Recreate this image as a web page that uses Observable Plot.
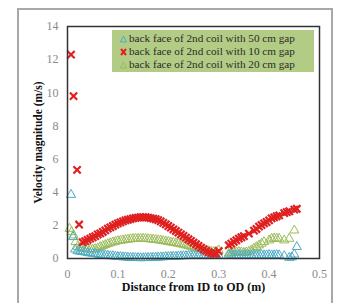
<!DOCTYPE html>
<html><head><meta charset="utf-8">
<script src="https://cdn.jsdelivr.net/npm/d3@7"></script>
<script src="https://cdn.jsdelivr.net/npm/@observablehq/plot@0.6"></script>
<style>
body{margin:0;background:#fff;}
#wrap{position:relative;width:342px;height:303px;overflow:hidden;font-family:"Liberation Serif",serif;}
#frame{position:absolute;left:17px;top:8px;width:316px;height:320px;border:2px solid #a8a8a8;box-sizing:border-box;}
#legend{position:absolute;left:112px;top:30px;width:202px;height:42px;background:#b3cc85;font-size:11.2px;line-height:13px;color:#2a2a2a;padding-top:2px;box-sizing:border-box;}
#legend div{white-space:nowrap;display:flex;align-items:center;}
#legend svg{margin-left:8px;margin-right:2px;}
#chart{position:absolute;left:0;top:0;}
</style></head>
<body><div id="wrap"><div id="frame"></div><div id="chart"></div><div id="legend"></div></div>
<script>
const seriesNames = ["back face of 2nd coil with 50 cm gap","back face of 2nd coil with 10 cm gap","back face of 2nd coil with 20 cm gap"];
const seriesColors = ["#4bacc6","#e02020","#9bbb59"];
const xTicks = [0,0.1,0.2,0.3,0.4,0.5];
const yTicks = [0,2,4,6,8,10,12,14];

// 50 cm gap (blue triangles)
const blueX = [0.007,0.011,0.015,0.02,0.025,0.03,0.035,0.04,0.045,0.05,0.055,0.06,0.065,0.07,0.075,0.08,0.085,0.09,0.095,0.1,0.105,0.11,0.115,0.12,0.125,0.13,0.135,0.14,0.145,0.15,0.155,0.16,0.165,0.17,0.175,0.18,0.185,0.19,0.195,0.2,0.205,0.21,0.215,0.22,0.225,0.23,0.235,0.24,0.245,0.25,0.255,0.26,0.265,0.27,0.275,0.28,0.285,0.29,0.295,0.3,0.32,0.325,0.33,0.335,0.34,0.345,0.35,0.355,0.36,0.365,0.37,0.375,0.38,0.385,0.39,0.395,0.4,0.405,0.41,0.415,0.42,0.43,0.44,0.445,0.45,0.455];
const blueY = [3.85,1.3,0.55,0.45,0.42,0.4,0.38,0.35,0.32,0.3,0.28,0.25,0.22,0.2,0.2,0.18,0.15,0.15,0.12,0.1,0.1,0.08,0.08,0.06,0.05,0.05,0.04,0.04,0.03,0.03,0.04,0.04,0.05,0.05,0.06,0.07,0.08,0.08,0.1,0.1,0.11,0.12,0.12,0.13,0.14,0.15,0.16,0.17,0.18,0.18,0.19,0.2,0.2,0.2,0.2,0.2,0.2,0.2,0.2,0.2,0.2,0.22,0.2,0.2,0.22,0.2,0.2,0.22,0.2,0.2,0.22,0.2,0.2,0.22,0.2,0.2,0.22,0.2,0.2,0.22,0.2,0.15,0.05,0.08,0.25,0.7];

// 10 cm gap (red crosses)
const redX = [0.007,0.012,0.019,0.023,0.03,0.035,0.04,0.045,0.05,0.055,0.06,0.065,0.07,0.075,0.08,0.085,0.09,0.095,0.1,0.105,0.11,0.115,0.12,0.125,0.13,0.135,0.14,0.145,0.15,0.155,0.16,0.165,0.17,0.175,0.18,0.185,0.19,0.195,0.2,0.205,0.21,0.215,0.22,0.225,0.23,0.235,0.24,0.245,0.25,0.255,0.26,0.265,0.27,0.275,0.28,0.285,0.29,0.295,0.3,0.32,0.325,0.33,0.335,0.34,0.345,0.35,0.36,0.37,0.375,0.38,0.385,0.39,0.395,0.4,0.405,0.41,0.415,0.42,0.43,0.435,0.44,0.45,0.455];
const redY = [12.3,9.8,5.35,2.05,0.98,1.05,1.12,1.2,1.28,1.35,1.45,1.52,1.6,1.7,1.8,1.88,1.96,2.04,2.12,2.18,2.24,2.3,2.34,2.38,2.42,2.45,2.47,2.49,2.5,2.49,2.47,2.44,2.41,2.37,2.32,2.24,2.15,2.06,1.96,1.86,1.76,1.66,1.56,1.46,1.36,1.26,1.16,1.06,0.96,0.86,0.76,0.66,0.56,0.46,0.38,0.32,0.28,0.3,0.45,0.8,0.9,1.0,1.1,1.2,1.28,1.35,1.5,1.68,1.78,1.92,2.02,2.12,2.2,2.3,2.42,2.48,2.55,2.6,2.74,2.8,2.85,2.95,3.0];

// 20 cm gap (green triangles)
const greenX = [0.004,0.008,0.012,0.016,0.02,0.025,0.03,0.035,0.04,0.045,0.05,0.055,0.06,0.065,0.07,0.075,0.08,0.085,0.09,0.095,0.1,0.105,0.11,0.115,0.12,0.125,0.13,0.135,0.14,0.145,0.15,0.155,0.16,0.165,0.17,0.175,0.18,0.185,0.19,0.195,0.2,0.205,0.21,0.215,0.22,0.225,0.23,0.235,0.24,0.245,0.25,0.255,0.26,0.265,0.27,0.275,0.28,0.285,0.29,0.295,0.3,0.32,0.325,0.33,0.335,0.34,0.345,0.35,0.355,0.36,0.365,0.37,0.375,0.38,0.385,0.39,0.4,0.405,0.41,0.415,0.42,0.43,0.44,0.45];
const greenY = [1.8,1.6,1.4,1.0,0.7,0.65,0.6,0.6,0.58,0.56,0.55,0.58,0.62,0.7,0.76,0.82,0.88,0.93,0.98,1.02,1.06,1.08,1.1,1.13,1.15,1.17,1.19,1.2,1.2,1.2,1.2,1.19,1.18,1.16,1.15,1.13,1.11,1.09,1.06,1.04,1.01,0.98,0.96,0.93,0.9,0.87,0.84,0.8,0.76,0.72,0.68,0.64,0.6,0.56,0.52,0.48,0.45,0.42,0.4,0.42,0.5,0.3,0.32,0.35,0.38,0.4,0.38,0.35,0.38,0.42,0.5,0.6,0.7,0.8,0.9,1.0,1.1,1.2,1.22,1.2,1.2,1.1,1.2,1.7];

const pts = (xs, ys) => xs.map((x, i) => ({x, y: ys[i]}));
const blue = pts(blueX, blueY), red = pts(redX, redY), green = pts(greenX, greenY);
const fmt = d => d === 0 ? "0" : String(d);

const chart = Plot.plot({
  width: 342, height: 303,
  marginLeft: 67, marginTop: 26, marginRight: 23, marginBottom: 45,
  style: {fontFamily: "Liberation Serif, serif", fontSize: "12px", background: "transparent"},
  x: {domain: [0, 0.5]},
  y: {domain: [0, 14]},
  marks: [
    Plot.axisX({ticks: xTicks, tickSize: 0, tickPadding: 11, fill: "#8a8a8a", tickFormat: fmt, label: null, fontSize: 12}),
    Plot.axisY({ticks: yTicks, tickSize: 0, tickPadding: 9, fill: "#8a8a8a", label: null, fontSize: 12}),
    Plot.dot(green, {x: "x", y: "y", symbol: "triangle", r: 3.4, stroke: seriesColors[2], fill: "none", strokeWidth: 1}),
    Plot.dot(blue, {x: "x", y: "y", symbol: "triangle", r: 3.4, stroke: seriesColors[0], fill: "none", strokeWidth: 1}),
    Plot.dot(red, {x: "x", y: "y", symbol: "times", r: 3.4, stroke: seriesColors[1], strokeWidth: 2.2}),
    Plot.frame({stroke: "#333", strokeWidth: 1.5}),
    Plot.text(["Distance from ID to OD (m)"], {frameAnchor: "bottom", dy: 32, fontWeight: "bold", fontSize: 12, fill: "#111"}),
    Plot.text(["Velocity magnitude (m/s)"], {frameAnchor: "left", textAnchor: "middle", dx: -29, rotate: -90, fontWeight: "bold", fontSize: 11.5, fill: "#111"})
  ]
});
document.getElementById("chart").appendChild(chart);

const leg = document.getElementById("legend");
seriesNames.forEach((name, i) => {
  const row = document.createElement("div");
  const sym = i === 1
    ? `<svg width="7" height="8"><path d="M1,1L6,7M6,1L1,7" stroke="${seriesColors[i]}" stroke-width="2"/></svg>`
    : `<svg width="7" height="8"><path d="M3.5,1L6.5,7L0.5,7Z" stroke="${seriesColors[i]}" fill="none"/></svg>`;
  row.innerHTML = sym + `<span>${name}</span>`;
  leg.appendChild(row);
});
</script></body></html>
